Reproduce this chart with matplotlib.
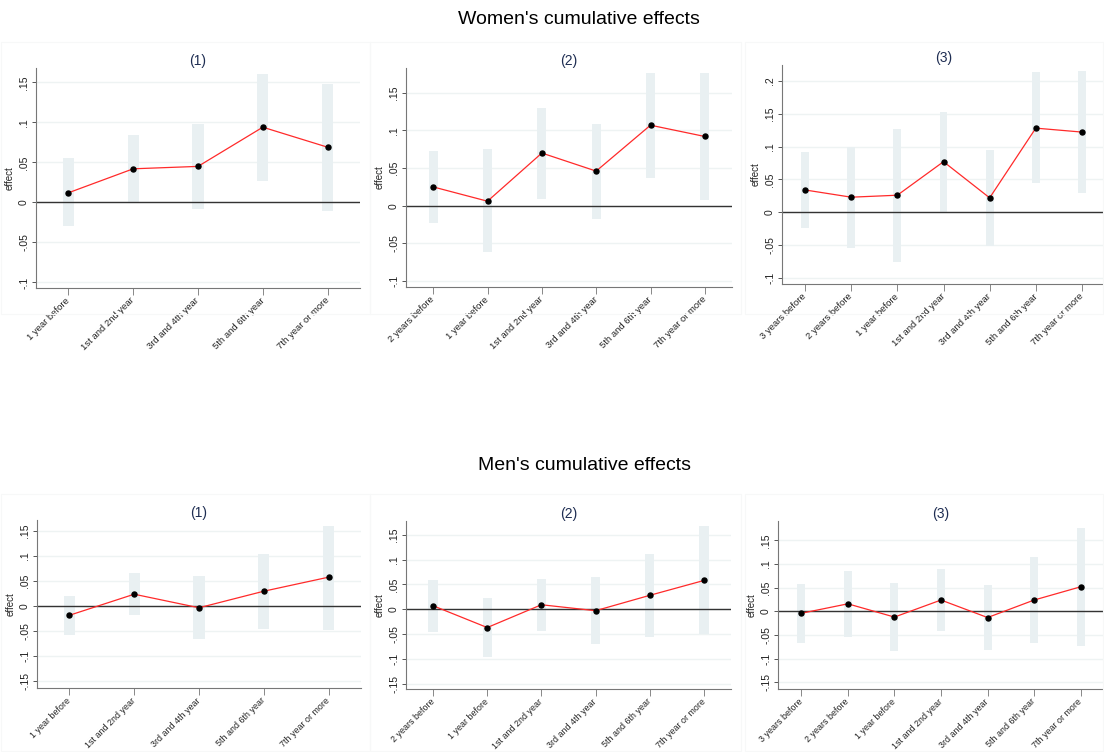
import matplotlib
matplotlib.use("Agg")
import matplotlib.pyplot as plt
from matplotlib.patches import Rectangle

plt.rcParams['font.family'] = ['Liberation Sans', 'DejaVu Sans']

# categories
cats5 = ["1 year before", "1st and 2nd year", "3rd and 4th year", "5th and 6th year", "7th year or more"]
cats6 = ["2 years before"] + cats5
cats7 = ["3 years before"] + cats6

# women's cumulative effects: point, upper, lower
w1_est = [0.012, 0.042, 0.045, 0.094, 0.069]
w1_hi = [0.055, 0.084, 0.098, 0.160, 0.148]
w1_lo = [-0.030, 0.001, -0.008, 0.027, -0.011]

w2_est = [0.025, 0.006, 0.070, 0.046, 0.107, 0.092]
w2_hi = [0.073, 0.075, 0.130, 0.108, 0.176, 0.176]
w2_lo = [-0.023, -0.062, 0.009, -0.017, 0.037, 0.008]

w3_est = [0.034, 0.023, 0.026, 0.077, 0.022, 0.128, 0.122]
w3_hi = [0.092, 0.099, 0.127, 0.153, 0.095, 0.213, 0.215]
w3_lo = [-0.024, -0.054, -0.076, 0.001, -0.051, 0.044, 0.029]

# men's cumulative effects
m1_est = [-0.019, 0.023, -0.004, 0.029, 0.057]
m1_hi = [0.020, 0.065, 0.059, 0.103, 0.160]
m1_lo = [-0.058, -0.019, -0.067, -0.046, -0.048]

m2_est = [0.007, -0.037, 0.009, -0.003, 0.028, 0.058]
m2_hi = [0.058, 0.023, 0.060, 0.066, 0.112, 0.167]
m2_lo = [-0.045, -0.097, -0.044, -0.071, -0.056, -0.051]

m3_est = [-0.004, 0.016, -0.012, 0.024, -0.013, 0.024, 0.052]
m3_hi = [0.057, 0.085, 0.060, 0.089, 0.055, 0.114, 0.177]
m3_lo = [-0.066, -0.055, -0.083, -0.042, -0.081, -0.066, -0.074]

W, H = 1104, 752
fig = plt.figure(figsize=(W / 100, H / 100), dpi=100)
fig.patch.set_facecolor("white")


def box(x0, y0, x1, y1):
    # pixel box -> figure fraction rect
    return [x0 / W, 1 - y1 / H, (x1 - x0) / W, (y1 - y0) / H]


# faint region borders like the stata graph regions
for (x0, y0, x1, y1) in [(1, 42, 370, 314), (370, 42, 741, 314), (745, 42, 1103, 314),
                         (1, 494, 370, 751), (370, 494, 741, 751), (745, 494, 1103, 751)]:
    fig.patches.append(Rectangle((x0 / W, 1 - y1 / H), (x1 - x0) / W, (y1 - y0) / H,
                                 transform=fig.transFigure, fill=False,
                                 edgecolor="#f7f8f8", linewidth=0.8))


def panel(rect, title, cats, est, hi, lo, ylim, yticks, ylabels, xfs=6.8):
    ax = fig.add_axes(box(*rect))
    x = list(range(1, len(cats) + 1))
    for yt in yticks:
        ax.axhline(yt, color="#eef3f3", linewidth=1.0, zorder=0)
    ax.bar(x, [h - l for h, l in zip(hi, lo)], bottom=lo, width=0.17,
           color="#e9f0f2", linewidth=0, zorder=1)
    ax.axhline(0, color="#333333", linewidth=1.0, zorder=2)
    ax.plot(x, est, color="#ff2a2a", linewidth=0.9, zorder=3)
    ax.plot(x, est, "o", color="black", markersize=3.6, zorder=4)
    ax.set_xlim(0.5, len(cats) + 0.5)
    ax.set_ylim(*ylim)
    ax.set_yticks(yticks)
    ax.set_yticklabels(ylabels, rotation=90, va="center", fontsize=7.5, color="#222222")
    ax.set_xticks(x)
    ax.set_xticklabels(cats, rotation=45, ha="right", va="center", rotation_mode="anchor",
                       fontsize=xfs, color="#222222")
    ax.tick_params(axis="y", length=3, width=0.7, color="#555555", pad=2)
    ax.tick_params(axis="x", length=5, width=0.7, color="#888888", pad=3)
    for s in ["top", "right"]:
        ax.spines[s].set_visible(False)
    ax.spines["left"].set_color("#777777")
    ax.spines["bottom"].set_color("#777777")
    ax.spines["left"].set_linewidth(0.8)
    ax.spines["bottom"].set_linewidth(0.8)
    ax.set_ylabel("effect", fontsize=7, labelpad=3, color="#222222")
    ax.set_title(title, fontsize=10, color="#1e2d52", pad=2)
    ax.set_facecolor("none")
    return ax


t_top = [-0.1, -0.05, 0, 0.05, 0.1, 0.15]
l_top = ["-.1", "-.05", "0", ".05", ".1", ".15"]
t_top3 = t_top + [0.2]
l_top3 = l_top + [".2"]
t_bot = [-0.15, -0.1, -0.05, 0, 0.05, 0.1, 0.15]
l_bot = ["-.15", "-.1", "-.05", "0", ".05", ".1", ".15"]

panel((36, 68, 360, 288), "(1)", cats5, w1_est, w1_hi, w1_lo, (-0.107, 0.168), t_top, l_top)
panel((406, 68, 732, 287), "(2)", cats6, w2_est, w2_hi, w2_lo, (-0.108, 0.183), t_top, l_top)
panel((782, 65, 1105, 284), "(3)", cats7, w3_est, w3_hi, w3_lo, (-0.109, 0.224), t_top3, l_top3)

panel((37, 520, 361, 688), "(1)", cats5, m1_est, m1_hi, m1_lo, (-0.164, 0.171), t_bot, l_bot, 6.4)
panel((406, 521, 731, 689), "(2)", cats6, m2_est, m2_hi, m2_lo, (-0.161, 0.178), t_bot, l_bot, 6.4)
panel((778, 521, 1104, 689), "(3)", cats7, m3_est, m3_hi, m3_lo, (-0.164, 0.191), t_bot, l_bot, 6.4)

fig.text(579 / W, 1 - 20 / H, "Women's cumulative effects", ha="center", va="center",
         fontsize=14, color="black")
fig.text(584 / W, 1 - 466 / H, "Men's cumulative effects", ha="center", va="center",
         fontsize=14, color="black")

fig.savefig("out.png", dpi=100, facecolor="white")
